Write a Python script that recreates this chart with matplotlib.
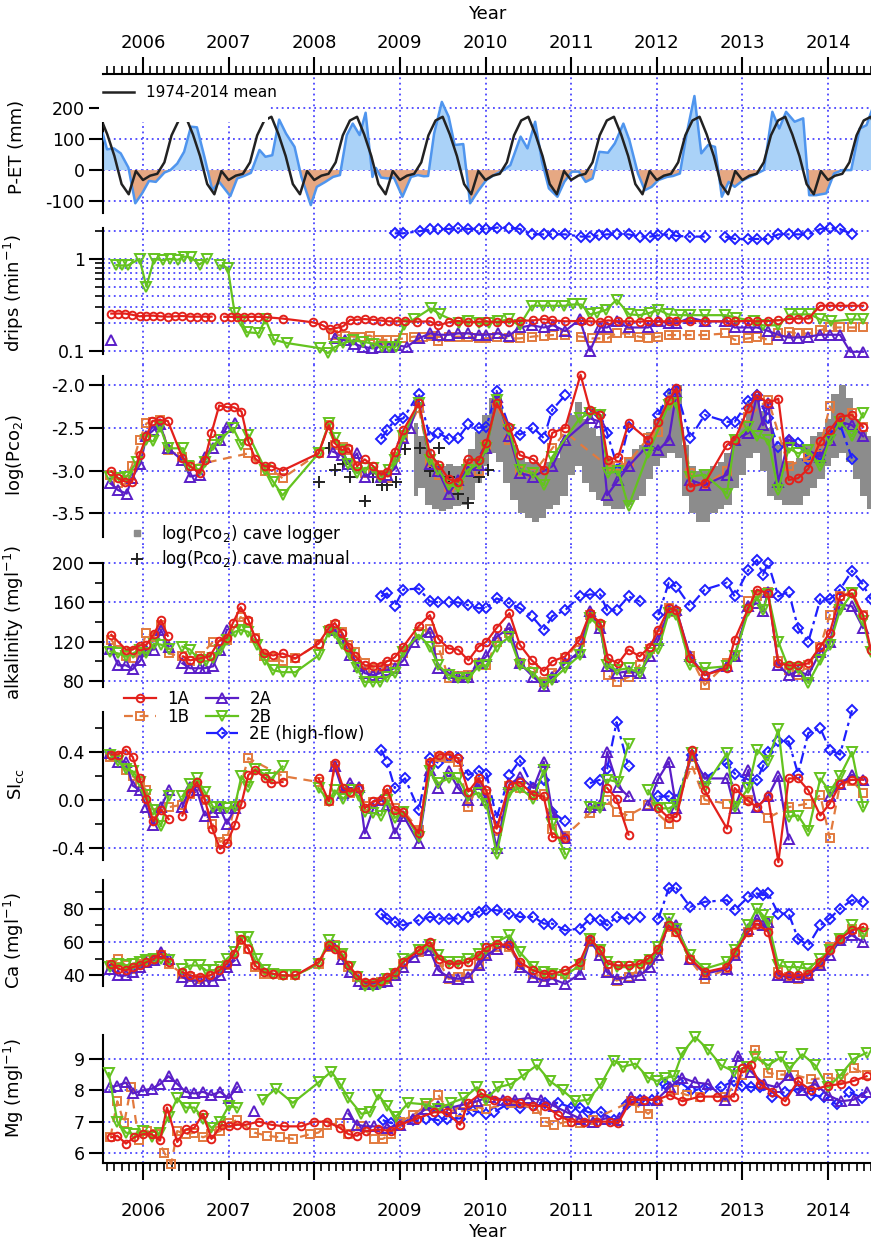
import numpy as np
import matplotlib.pyplot as plt
from matplotlib.lines import Line2D
from matplotlib.patches import Rectangle
from matplotlib.ticker import MultipleLocator, NullFormatter

plt.rcParams['font.family'] = 'DejaVu Sans'
plt.rcParams['axes.unicode_minus'] = False

W, H = 871, 1242
X0, X1 = 2005.533, 2014.502
GRID = '#4a44ff'

# ---------------- data ----------------
# P-ET monthly (mm) and 1974-2014 monthly mean (Jan..Dec)
pet = [(2005.53, 118), (2005.58, 67), (2005.66, 70), (2005.74, 54), (2005.83, 8), (2005.91, -107),
       (2005.99, -75), (2006.07, -35), (2006.15, -38), (2006.25, -8), (2006.32, 0), (2006.40, 21),
       (2006.48, 59), (2006.56, 140), (2006.63, 138), (2006.72, 40), (2006.81, -65), (2006.89, -38),
       (2007.02, -84), (2007.10, -27), (2007.18, -19), (2007.26, -9), (2007.36, 65), (2007.43, 43),
       (2007.51, 48), (2007.59, 163), (2007.67, 118), (2007.77, 75), (2007.85, -22), (2007.96, -113),
       (2008.03, -54), (2008.13, -38), (2008.22, -22), (2008.30, -16), (2008.38, 113), (2008.45, 150),
       (2008.53, 113), (2008.60, 185), (2008.68, -22), (2008.72, 7), (2008.78, -24), (2008.86, -27),
       (2008.93, -24), (2009.03, -86), (2009.13, -22), (2009.21, -16), (2009.28, -20), (2009.33, -19),
       (2009.40, 118), (2009.49, 220), (2009.57, 172), (2009.64, 81), (2009.74, 84), (2009.82, -107),
       (2009.92, -65), (2010.01, -32), (2010.10, -16), (2010.21, 0), (2010.29, 16), (2010.41, 108),
       (2010.49, 70), (2010.58, 156), (2010.66, 27), (2010.74, -59), (2010.84, -86), (2010.92, -38),
       (2011.01, -5), (2011.09, -5), (2011.17, -38), (2011.25, -27), (2011.33, 59), (2011.43, 56),
       (2011.51, 86), (2011.61, 150), (2011.68, 97), (2011.78, -11), (2011.86, -65), (2011.94, -54),
       (2012.02, -32), (2012.12, -22), (2012.19, -19), (2012.27, -11), (2012.35, 118), (2012.44, 239),
       (2012.52, 54), (2012.60, 81), (2012.68, 75), (2012.76, -86), (2012.84, -38), (2012.91, -54),
       (2013.01, -32), (2013.09, -22), (2013.17, -11), (2013.25, 0), (2013.35, 188), (2013.43, 134),
       (2013.51, 188), (2013.61, 156), (2013.71, 167), (2013.78, -81), (2013.86, -81), (2013.98, -75),
       (2014.07, -11), (2014.17, 0), (2014.27, 0), (2014.37, 134), (2014.45, 145), (2014.52, 199)]
pet_mean_month = [-32, -18, -12, 25, 112, 160, 172, 115, 45, -45, -78, -3]
pet_mean_years = list(range(2005, 2015))

# drip rates (min^-1)
drips_1A = [(2005.63, 0.255), (2005.71, 0.255), (2005.79, 0.255), (2005.87, 0.248), (2005.96, 0.238),
            (2006.04, 0.242), (2006.12, 0.242), (2006.20, 0.238), (2006.29, 0.236), (2006.37, 0.238),
            (2006.46, 0.24), (2006.55, 0.236), (2006.63, 0.236), (2006.72, 0.236), (2006.80, 0.236), None,
            (2006.95, 0.235), (2007.03, 0.235), (2007.10, 0.235), (2007.18, 0.232), (2007.26, 0.235),
            (2007.34, 0.235), (2007.45, 0.232), (2007.63, 0.225), (2007.98, 0.205), (2008.10, 0.19),
            (2008.18, 0.172), (2008.26, 0.178), (2008.34, 0.186), (2008.42, 0.218), (2008.50, 0.218),
            (2008.59, 0.222), (2008.69, 0.218), (2008.78, 0.214), (2008.87, 0.21), (2008.97, 0.21),
            (2009.06, 0.21), (2009.20, 0.208), (2009.35, 0.21), (2009.45, 0.19), (2009.57, 0.205),
            (2009.68, 0.212), (2009.80, 0.205), (2009.92, 0.208), (2010.01, 0.21), (2010.13, 0.205),
            (2010.28, 0.208), (2010.40, 0.212), (2010.56, 0.215), (2010.68, 0.222), (2010.78, 0.215),
            (2010.93, 0.21), (2011.11, 0.212), (2011.22, 0.21), (2011.34, 0.208), (2011.43, 0.215),
            (2011.55, 0.21), (2011.67, 0.21), (2011.80, 0.208), (2011.90, 0.212), (2012.02, 0.21),
            (2012.14, 0.21), (2012.23, 0.21), (2012.39, 0.212), (2012.56, 0.21), (2012.82, 0.21),
            (2012.91, 0.21), (2013.07, 0.212), (2013.17, 0.21), (2013.30, 0.212), (2013.42, 0.215),
            (2013.54, 0.222), (2013.65, 0.225), (2013.77, 0.225), (2013.91, 0.31), (2014.02, 0.31),
            (2014.14, 0.31), (2014.28, 0.31), (2014.41, 0.31)]
drips_1B = [(2008.22, 0.149), (2008.36, 0.147), (2008.46, 0.143), (2008.55, 0.143), (2008.65, 0.147),
            (2008.75, 0.132), (2008.85, 0.132), (2008.94, 0.132), (2009.04, 0.137), (2009.16, 0.143),
            (2009.27, 0.143), (2009.39, 0.147), (2009.45, 0.127), (2009.57, 0.143), (2009.68, 0.143),
            (2009.80, 0.143), (2009.92, 0.137), (2010.01, 0.137), (2010.13, 0.143), (2010.27, 0.137),
            (2010.40, 0.137), (2010.54, 0.143), (2010.68, 0.147), (2010.79, 0.149), (2010.93, 0.149),
            (2011.12, 0.143), (2011.24, 0.137), (2011.34, 0.137), (2011.42, 0.137), (2011.53, 0.155),
            (2011.67, 0.155), (2011.79, 0.143), (2011.90, 0.137), (2012.02, 0.143), (2012.14, 0.149),
            (2012.23, 0.149), (2012.39, 0.149), (2012.56, 0.149), (2012.80, 0.155), (2012.91, 0.132),
            (2013.07, 0.137), (2013.17, 0.143), (2013.30, 0.132), (2013.42, 0.155), (2013.54, 0.161),
            (2013.65, 0.155), (2013.77, 0.155), (2013.91, 0.168), (2014.02, 0.18), (2014.14, 0.18),
            (2014.28, 0.18), (2014.41, 0.18)]
drips_2A = [(2005.63, 0.13), None,
            (2008.24, 0.14), (2008.36, 0.13), (2008.46, 0.12), (2008.57, 0.111), (2008.67, 0.107),
            (2008.77, 0.111), (2008.87, 0.111), (2008.96, 0.115), (2009.08, 0.111), (2009.22, 0.137),
            (2009.35, 0.155), (2009.45, 0.15), (2009.57, 0.15), (2009.68, 0.155), (2009.80, 0.155),
            (2009.92, 0.15), (2010.01, 0.15), (2010.15, 0.155), (2010.27, 0.145), (2010.40, 0.18),
            (2010.54, 0.19), (2010.68, 0.18), (2010.79, 0.19), (2010.93, 0.165), (2011.10, 0.22),
            (2011.22, 0.10), (2011.34, 0.18), (2011.42, 0.18), (2011.53, 0.21), (2011.67, 0.18),
            (2011.90, 0.18), (2012.02, 0.21), (2012.14, 0.2), (2012.23, 0.2), (2012.39, 0.23),
            (2012.56, 0.21), (2012.80, 0.21), (2012.91, 0.18), (2013.07, 0.18), (2013.17, 0.18),
            (2013.30, 0.165), (2013.42, 0.15), (2013.54, 0.14), (2013.65, 0.14), (2013.77, 0.143),
            (2013.91, 0.15), (2014.02, 0.15), (2014.14, 0.15), (2014.26, 0.098), (2014.41, 0.098)]
drips_2B = [(2005.69, 0.86), (2005.75, 0.85), (2005.82, 0.85), (2005.96, 1.0), (2006.04, 0.50),
            (2006.13, 1.0), (2006.23, 0.97), (2006.31, 1.0), (2006.41, 0.98), (2006.48, 1.06),
            (2006.56, 1.04), (2006.66, 0.87), (2006.75, 1.0), None,
            (2006.90, 0.85), (2006.99, 0.80), (2007.07, 0.26), (2007.15, 0.21), (2007.21, 0.16),
            (2007.35, 0.156), (2007.43, 0.22), (2007.53, 0.132), (2007.68, 0.122), (2008.07, 0.107),
            (2008.16, 0.095), (2008.24, 0.11), (2008.34, 0.122), (2008.45, 0.13), (2008.57, 0.126),
            (2008.69, 0.12), (2008.79, 0.111), (2008.87, 0.11), (2008.95, 0.111), (2009.05, 0.19),
            (2009.16, 0.22), (2009.36, 0.29), (2009.47, 0.25), (2009.69, 0.2), (2009.80, 0.21),
            (2009.92, 0.2), (2010.04, 0.2), (2010.15, 0.21), (2010.27, 0.22), (2010.40, 0.19),
            (2010.54, 0.31), (2010.67, 0.31), (2010.79, 0.31), (2010.92, 0.31), (2011.02, 0.32),
            (2011.12, 0.32), (2011.22, 0.25), (2011.30, 0.26), (2011.41, 0.28), (2011.53, 0.36),
            (2011.68, 0.25), (2011.80, 0.245), (2011.92, 0.26), (2012.02, 0.28), (2012.13, 0.25),
            (2012.27, 0.245), (2012.39, 0.245), (2012.56, 0.245), (2012.80, 0.245), (2012.93, 0.23),
            (2013.13, 0.21), (2013.24, 0.19), (2013.42, 0.19), (2013.56, 0.25), (2013.67, 0.25),
            (2013.79, 0.25), (2013.91, 0.22), (2014.04, 0.21), (2014.27, 0.22), (2014.41, 0.22)]
drips_2E = [(2008.94, 1.90), (2009.04, 1.90), (2009.23, 2.0), (2009.35, 2.09), (2009.45, 2.09),
            (2009.57, 2.12), (2009.68, 2.15), (2009.80, 2.12), (2009.92, 2.12), (2010.01, 2.12),
            (2010.13, 2.19), (2010.28, 2.19), (2010.40, 2.12), (2010.54, 1.85), (2010.68, 1.85),
            (2010.79, 1.85), (2010.93, 1.85), (2011.12, 1.75), (2011.22, 1.75), (2011.32, 1.80),
            (2011.42, 1.85), (2011.53, 1.85), (2011.67, 1.85), (2011.80, 1.75), (2011.92, 1.75),
            (2012.02, 1.80), (2012.14, 1.85), (2012.23, 1.78), (2012.39, 1.75), (2012.56, 1.75), None,
            (2012.80, 1.75), (2012.91, 1.65), (2013.07, 1.65), (2013.17, 1.65), (2013.30, 1.65),
            (2013.42, 1.85), (2013.54, 1.85), (2013.65, 1.85), (2013.77, 1.85), (2013.91, 2.12),
            (2014.02, 2.19), (2014.14, 2.12), (2014.28, 1.85)]

# log(PCO2)
pco2_1A = [(2005.63, -3.01), (2005.71, -3.09), (2005.79, -3.13), (2005.87, -3.14), (2005.96, -2.82),
           (2006.04, -2.60), (2006.11, -2.42), (2006.20, -2.41), (2006.29, -2.42), (2006.46, -2.85),
           (2006.55, -2.95), (2006.66, -3.03), (2006.72, -2.88), (2006.80, -2.56), (2006.89, -2.24),
           (2006.98, -2.26), (2007.06, -2.26), (2007.15, -2.31), (2007.23, -2.66), (2007.31, -2.86),
           (2007.42, -2.95), (2007.50, -2.95), (2007.63, -3.00), (2008.05, -2.80), (2008.17, -2.47),
           (2008.24, -2.68), (2008.32, -2.76), (2008.40, -2.74), (2008.50, -2.95), (2008.59, -2.87),
           (2008.69, -2.95), (2008.78, -3.05), (2008.85, -3.02), (2008.94, -2.78), (2009.04, -2.53),
           (2009.22, -2.21), (2009.35, -2.80), (2009.46, -2.94), (2009.57, -3.10), (2009.68, -3.13),
           (2009.80, -2.87), (2009.92, -2.88), (2010.01, -2.68), (2010.13, -2.21), (2010.28, -2.49),
           (2010.40, -2.82), (2010.56, -2.87), (2010.68, -2.99), (2010.78, -2.56), (2010.93, -2.50),
           (2011.11, -1.88), (2011.22, -2.29), (2011.34, -2.35), (2011.43, -2.88), (2011.55, -2.84),
           (2011.67, -2.45), (2011.90, -2.64), (2012.02, -2.43), (2012.14, -2.18), (2012.23, -2.04),
           (2012.39, -3.19), (2012.56, -3.15), (2012.82, -2.70), (2012.91, -2.64), (2013.07, -2.27),
           (2013.17, -2.12), (2013.30, -2.21), (2013.42, -2.16), (2013.54, -3.11), (2013.65, -3.09),
           (2013.77, -2.98), (2013.91, -2.66), (2014.02, -2.53), (2014.14, -2.37), (2014.28, -2.35),
           (2014.41, -2.49)]
pco2_1B = [(2005.62, -3.05), (2005.71, -3.15), (2005.79, -3.11), (2005.87, -2.95), (2005.96, -2.64),
           (2006.04, -2.45), (2006.12, -2.43), (2006.20, -2.41), (2006.29, -2.76), (2006.46, -2.84),
           (2006.55, -2.95), (2007.23, -2.80), (2007.42, -3.01), (2007.50, -2.99), (2007.63, -3.09),
           (2008.05, -2.80), (2008.17, -2.47), (2008.24, -2.70), (2008.34, -2.72), (2008.40, -2.76),
           (2008.50, -2.95), (2008.59, -3.03), (2008.69, -3.03), (2008.78, -3.05), (2008.85, -3.09),
           (2008.94, -2.84), (2009.04, -2.62), (2009.22, -2.27), (2009.35, -2.90), (2009.46, -3.05),
           (2009.57, -3.19), (2009.68, -3.17), (2009.80, -2.92), (2009.92, -3.0), (2010.01, -2.70),
           (2010.13, -2.21), (2010.28, -2.64), (2010.40, -3.01), (2010.56, -3.03), (2010.78, -2.74),
           (2010.93, -2.55), (2011.43, -2.95), (2011.55, -2.95), (2011.67, -2.90), (2011.90, -2.62),
           (2012.02, -2.55), (2012.14, -2.21), (2012.23, -2.12), (2012.39, -3.03), (2012.56, -3.17),
           (2012.82, -3.0), (2012.91, -2.64), (2013.07, -2.37), (2013.30, -2.17), (2013.54, -2.95),
           (2013.77, -2.84), (2013.91, -2.72), (2014.02, -2.25), (2014.14, -2.45), (2014.28, -2.33),
           (2014.41, -2.49)]
pco2_2A = [(2005.62, -3.15), (2005.71, -3.23), (2005.81, -3.27), (2005.87, -3.09), (2005.97, -2.92),
           (2006.04, -2.60), (2006.12, -2.53), (2006.20, -2.46), (2006.29, -2.74), (2006.46, -2.88),
           (2006.55, -3.07), (2006.66, -3.05), (2006.72, -2.84), (2006.82, -2.74), (2006.90, -2.64),
           (2006.98, -2.49), (2007.07, -2.44), None,
           (2008.22, -2.78), (2008.32, -2.82), (2008.40, -2.92), (2008.50, -2.80), (2008.59, -3.07),
           (2008.69, -3.02), (2008.78, -3.07), (2008.85, -3.05), (2008.94, -2.98), (2009.04, -2.62),
           (2009.12, -2.50), (2009.22, -2.18), (2009.35, -2.92), (2009.45, -3.01), (2009.57, -3.27),
           (2009.68, -3.11), (2009.80, -3.01), (2009.92, -2.94), (2010.01, -2.74), (2010.13, -2.14),
           (2010.28, -2.60), (2010.40, -3.03), (2010.56, -3.07), (2010.78, -2.95), (2010.93, -2.64),
           (2011.22, -2.39), (2011.34, -2.43), (2011.42, -3.29), (2011.55, -3.11), (2011.67, -2.95),
           (2011.90, -2.70), (2012.02, -2.76), (2012.14, -2.64), (2012.23, -2.08), (2012.39, -3.11),
           (2012.56, -3.17), (2012.82, -3.05), (2012.91, -2.64), (2013.07, -2.56), (2013.17, -2.12),
           (2013.24, -2.47), (2013.30, -2.21), (2013.42, -3.13), (2013.54, -2.64), (2013.91, -2.84),
           (2014.02, -2.64), (2014.14, -2.43), (2014.28, -2.47), (2014.41, -2.60)]
pco2_2B = [(2005.62, -3.07), (2005.73, -3.09), (2005.81, -3.07), (2005.93, -2.90), (2006.04, -2.64),
           (2006.12, -2.66), (2006.20, -2.49), (2006.29, -2.74), (2006.47, -2.74), (2006.53, -2.95),
           (2006.66, -2.99), (2006.72, -2.90), (2006.82, -2.70), (2006.90, -2.64), (2007.05, -2.50),
           (2007.15, -2.70), (2007.23, -2.58), (2007.43, -2.99), (2007.52, -3.13), (2007.63, -3.29),
           (2008.05, -2.80), (2008.17, -2.45), (2008.24, -2.62), (2008.32, -2.76), (2008.40, -2.92),
           (2008.50, -3.03), (2008.59, -2.97), (2008.69, -2.97), (2008.77, -3.07), (2008.87, -2.99),
           (2008.94, -2.88), (2009.04, -2.60), (2009.22, -2.21), (2009.35, -2.88), (2009.45, -2.99),
           (2009.57, -3.17), (2009.68, -3.19), (2009.80, -2.99), (2009.92, -2.92), (2010.01, -2.74),
           (2010.13, -2.18), (2010.28, -2.53), (2010.40, -2.99), (2010.56, -3.03), (2010.68, -3.17),
           (2010.78, -2.84), (2011.10, -2.39), (2011.22, -2.33), (2011.34, -2.35), (2011.43, -3.03),
           (2011.55, -3.01), (2011.67, -3.42), (2011.90, -2.80), (2012.14, -2.23), (2012.23, -2.21),
           (2012.39, -3.07), (2012.56, -3.05), (2012.82, -3.27), (2012.91, -2.64), (2013.07, -2.49),
           (2013.17, -2.60), (2013.30, -2.64), (2013.42, -3.23), (2013.54, -2.74), (2013.65, -2.80),
           (2013.77, -2.76), (2013.91, -2.95), (2014.02, -2.64), (2014.14, -2.43), (2014.28, -2.60),
           (2014.41, -2.33)]
pco2_2E = [(2008.78, -2.63), (2008.85, -2.53), (2008.94, -2.41), (2009.04, -2.39), (2009.22, -2.10),
           (2009.35, -2.61), (2009.45, -2.56), (2009.57, -2.63), (2009.68, -2.62), (2009.80, -2.46),
           (2009.92, -2.50), (2010.01, -2.49), (2010.13, -2.07), (2010.28, -2.50), (2010.40, -2.58),
           (2010.56, -2.50), (2010.68, -2.62), (2010.78, -2.29), (2010.93, -2.12), None,
           (2011.22, -2.31), (2011.34, -2.35), (2011.42, -2.56), (2011.55, -2.99), (2011.67, -2.49), None,
           (2012.02, -2.35), (2012.14, -2.10), (2012.23, -2.06), (2012.39, -2.62), (2012.56, -2.35),
           (2012.82, -2.43), (2012.91, -2.43), (2013.07, -2.19), (2013.17, -2.12), (2013.30, -2.39),
           (2013.42, -2.72), (2013.54, -2.64), (2013.65, -2.68), (2013.77, -2.88), (2013.91, -2.82),
           (2014.02, -2.58), (2014.14, -2.46), (2014.28, -2.86)]
# cave air logger: (time, upper, lower) envelope
pco2_logger = [(2009.17, -2.45, -3.30), (2009.25, -2.60, -3.20), (2009.33, -2.75, -3.40),
               (2009.42, -2.88, -3.45), (2009.50, -2.95, -3.47), (2009.58, -2.92, -3.45),
               (2009.67, -2.95, -3.42), (2009.75, -2.92, -3.40), (2009.83, -2.75, -3.35),
               (2009.92, -2.55, -3.15), (2010.00, -2.35, -2.95), (2010.08, -2.15, -2.80),
               (2010.17, -2.25, -2.90), (2010.25, -2.45, -3.15), (2010.33, -2.70, -3.35),
               (2010.42, -2.85, -3.50), (2010.50, -2.90, -3.55), (2010.58, -2.90, -3.60),
               (2010.67, -2.95, -3.55), (2010.75, -2.90, -3.45), (2010.83, -2.85, -3.40),
               (2010.92, -2.65, -3.30), (2011.00, -2.35, -3.05), (2011.08, -2.20, -2.95),
               (2011.17, -2.40, -3.15), (2011.25, -2.50, -3.25), (2011.33, -2.60, -3.35),
               (2011.42, -2.85, -3.42), (2011.50, -2.95, -3.45), (2011.58, -2.95, -3.45),
               (2011.67, -2.85, -3.40), (2011.75, -2.75, -3.35), (2011.83, -2.70, -3.30),
               (2011.92, -2.55, -3.10), (2012.00, -2.40, -2.95), (2012.08, -2.25, -2.85),
               (2012.17, -2.05, -2.80), (2012.25, -2.00, -2.85), (2012.33, -2.70, -3.30),
               (2012.42, -2.95, -3.50), (2012.50, -3.00, -3.60), (2012.58, -3.00, -3.60),
               (2012.67, -2.95, -3.50), (2012.75, -2.90, -3.45), (2012.83, -2.80, -3.40),
               (2012.92, -2.60, -3.20), (2013.00, -2.45, -3.05), (2013.08, -2.20, -2.85),
               (2013.17, -2.10, -2.80), (2013.25, -2.30, -3.00), (2013.33, -2.50, -3.30),
               (2013.42, -2.70, -3.35), (2013.50, -2.90, -3.40), (2013.58, -2.90, -3.40),
               (2013.67, -2.85, -3.40), (2013.75, -2.70, -3.30), (2013.83, -2.60, -3.20),
               (2013.92, -2.55, -3.10), (2014.00, -2.40, -2.95), (2014.08, -2.10, -2.85),
               (2014.17, -2.00, -2.80), (2014.25, -2.15, -2.90), (2014.33, -2.40, -3.10),
               (2014.42, -2.55, -3.30), (2014.50, -2.60, -3.45)]
pco2_manual = [(2008.05, -3.13), (2008.17, -2.74), (2008.24, -2.99), (2008.34, -2.92), (2008.42, -3.07),
               (2008.59, -3.36), (2008.69, -3.07), (2008.79, -3.17), (2008.85, -3.17), (2008.96, -3.14),
               (2009.06, -2.75), (2009.24, -2.74), (2009.35, -3.01), (2009.46, -2.74), (2009.57, -3.07),
               (2009.68, -3.27), (2009.80, -3.38), (2009.92, -3.07), (2010.03, -2.99)]

# alkalinity (mg/l)
alk_1A = [(2005.63, 127), (2005.80, 112), (2005.88, 112), (2005.96, 116), (2006.04, 117), (2006.13, 128),
          (2006.21, 142), (2006.29, 126), None, (2006.47, 105), (2006.55, 101), (2006.66, 103),
          (2006.78, 105), (2006.89, 121), (2006.98, 124), (2007.05, 139), (2007.14, 155), (2007.23, 142),
          (2007.31, 124), (2007.41, 108), (2007.52, 106), (2007.63, 108), (2007.78, 103), (2008.05, 118),
          (2008.17, 134), (2008.24, 139), (2008.32, 129), (2008.40, 115), (2008.48, 105), (2008.59, 96),
          (2008.69, 95), (2008.78, 95), (2008.85, 100), (2008.94, 104), (2009.04, 115), (2009.22, 136),
          (2009.35, 147), (2009.45, 123), (2009.57, 113), (2009.68, 112), (2009.80, 101), (2009.92, 115),
          (2010.01, 120), (2010.13, 134), (2010.28, 149), (2010.40, 117), (2010.54, 101), (2010.68, 90),
          (2010.78, 100), (2010.93, 105), (2011.10, 122), (2011.22, 149), (2011.34, 139), (2011.43, 103),
          (2011.55, 98), (2011.67, 112), (2011.80, 105), (2011.92, 115), (2012.02, 132), (2012.14, 154),
          (2012.23, 152), (2012.39, 103), (2012.56, 86), (2012.82, 93), (2012.91, 122), (2013.07, 154),
          (2013.17, 173), (2013.30, 169), (2013.42, 98), (2013.54, 96), (2013.65, 96), (2013.77, 98),
          (2013.91, 115), (2014.02, 129), (2014.14, 166), (2014.28, 169), (2014.41, 147), (2014.50, 112)]
alk_1B = [(2005.63, 122), (2005.71, 112), (2005.80, 105), (2005.88, 103), (2005.97, 110), (2006.04, 129),
          (2006.13, 125), (2006.21, 137), (2006.30, 108), (2006.46, 105), (2006.55, 100), (2006.66, 105),
          (2006.82, 120), (2006.98, 122), (2007.14, 145), (2007.23, 140), (2007.31, 124), (2007.41, 105),
          (2007.52, 104), (2007.63, 100), (2007.78, 103), (2008.05, 118), (2008.17, 132), (2008.24, 137),
          (2008.32, 130), (2008.40, 117), (2008.48, 110), (2008.59, 98), (2008.69, 93), (2008.78, 93),
          (2008.85, 96), (2008.94, 93), (2009.04, 108), (2009.22, 130), (2009.35, 133), (2009.46, 112),
          (2009.57, 83), (2009.68, 85), (2009.80, 86), (2009.92, 98), (2010.01, 96), (2010.13, 120),
          (2010.28, 129), (2010.40, 98), (2010.56, 93), (2010.68, 79), (2010.78, 88), (2010.93, 103),
          (2011.10, 120), (2011.22, 147), (2011.34, 137), (2011.43, 86), (2011.53, 79), (2011.67, 84),
          (2011.80, 96), (2011.92, 113), (2012.02, 127), (2012.14, 154), (2012.23, 150), (2012.39, 105),
          (2012.56, 76), (2012.82, 98), (2012.91, 105), (2013.07, 161), (2013.17, 166), (2013.30, 171),
          (2013.42, 100), (2013.54, 91), (2013.65, 86), (2013.77, 96), (2013.91, 115), (2014.02, 147),
          (2014.14, 166), (2014.28, 171), (2014.41, 147)]
alk_2A = [(2005.62, 113), (2005.71, 96), (2005.80, 96), (2005.88, 92), (2005.97, 101), (2006.04, 112),
          (2006.13, 112), (2006.21, 132), (2006.30, 115), None, (2006.46, 98), (2006.55, 93), (2006.66, 93),
          (2006.72, 93), (2006.82, 95), (2006.90, 112), (2006.98, 132), None,
          (2008.22, 132), (2008.32, 124), (2008.42, 106), (2008.52, 95), (2008.59, 88), (2008.69, 86),
          (2008.77, 88), (2008.85, 91), (2008.94, 93), (2009.04, 101), (2009.16, 120), (2009.35, 130),
          (2009.45, 93), (2009.57, 88), (2009.68, 84), (2009.80, 84), (2009.92, 98), (2010.01, 105),
          (2010.13, 125), (2010.28, 134), (2010.40, 98), (2010.56, 84), (2010.68, 75), (2010.78, 84),
          (2010.93, 98), (2011.10, 110), (2011.22, 151), (2011.34, 134), (2011.42, 95), (2011.53, 88),
          (2011.67, 90), (2011.80, 88), (2011.92, 105), (2012.02, 122), (2012.14, 152), (2012.23, 152),
          (2012.39, 105), (2012.56, 86), (2012.82, 95), (2012.91, 105), (2013.07, 156), (2013.17, 159),
          (2013.24, 151), (2013.30, 171), (2013.42, 96), (2013.54, 86), (2013.65, 90), (2013.77, 86),
          (2013.91, 110), (2014.02, 120), (2014.14, 158), (2014.28, 156), (2014.41, 134)]
alk_2B = [(2005.62, 110), (2005.71, 108), (2005.80, 105), (2005.88, 108), (2005.97, 112), (2006.04, 108),
          (2006.13, 118), (2006.21, 117), (2006.30, 113), None, (2006.46, 115), (2006.55, 112),
          (2006.66, 101), (2006.74, 100), (2006.82, 103), (2006.90, 112), (2006.98, 122), (2007.07, 130),
          (2007.14, 132), (2007.23, 130), (2007.33, 117), (2007.43, 101), (2007.52, 91), (2007.63, 89),
          (2007.78, 89), (2008.05, 106), (2008.17, 130), (2008.24, 129), (2008.32, 118), (2008.42, 106),
          (2008.50, 93), (2008.59, 79), (2008.69, 79), (2008.77, 79), (2008.85, 84), (2008.94, 88),
          (2009.04, 110), (2009.22, 127), (2009.35, 115), (2009.45, 96), (2009.57, 86), (2009.68, 83),
          (2009.80, 83), (2009.92, 95), (2010.01, 96), (2010.13, 115), (2010.28, 125), (2010.40, 96),
          (2010.56, 88), (2010.68, 76), (2010.78, 81), (2010.93, 93), (2011.10, 106), (2011.22, 144),
          (2011.34, 135), (2011.42, 96), (2011.53, 91), (2011.67, 93), (2011.80, 88), (2011.92, 108),
          (2012.02, 113), (2012.14, 149), (2012.23, 147), (2012.39, 96), (2012.56, 93), (2012.82, 95),
          (2012.91, 105), (2013.07, 151), (2013.17, 166), (2013.24, 152), (2013.30, 168), (2013.42, 120),
          (2013.54, 93), (2013.65, 93), (2013.77, 78), (2013.91, 101), (2014.02, 117), (2014.14, 152),
          (2014.28, 169), (2014.41, 141), (2014.50, 110)]
alk_2E = [(2008.78, 166), (2008.85, 169), (2008.94, 156), (2009.04, 173), (2009.22, 174), (2009.35, 161),
          (2009.45, 160), (2009.57, 160), (2009.68, 160), (2009.80, 157), (2009.92, 154), (2010.01, 154),
          (2010.13, 164), (2010.28, 159), (2010.40, 154), (2010.54, 146), (2010.68, 132), (2010.78, 146),
          (2010.93, 152), (2011.10, 166), (2011.22, 168), (2011.34, 168), (2011.42, 152), (2011.53, 152),
          (2011.67, 166), (2011.80, 161), None, (2012.02, 147), (2012.14, 180), (2012.23, 176),
          (2012.39, 156), (2012.56, 173), (2012.82, 180), (2012.91, 166), (2013.07, 193), (2013.17, 203),
          (2013.24, 188), (2013.30, 200), (2013.42, 166), (2013.54, 171), (2013.65, 134), (2013.77, 120),
          (2013.91, 163), (2014.02, 163), (2014.14, 173), (2014.28, 192), (2014.41, 178), (2014.50, 163)]

# calcite saturation index
si_1A = [(2005.63, 0.38), (2005.71, 0.38), (2005.80, 0.42), (2005.88, 0.36), (2005.96, 0.18), (2006.04, 0.01),
         (2006.12, -0.18), (2006.21, -0.08), (2006.30, -0.16), None, (2006.46, -0.13), (2006.55, 0.06),
         (2006.63, 0.15), (2006.72, 0.01), (2006.81, -0.24), (2006.90, -0.41), (2006.98, -0.36),
         (2007.07, -0.21), (2007.15, -0.03), (2007.23, 0.21), (2007.31, 0.25), (2007.43, 0.18),
         (2007.50, 0.14), (2007.63, 0.15), None, (2008.05, 0.18), (2008.17, -0.01), (2008.24, 0.31),
         (2008.34, 0.10), (2008.42, 0.07), (2008.52, 0.10), (2008.59, -0.07), (2008.69, -0.01),
         (2008.78, 0.0), (2008.85, 0.09), (2008.94, -0.08), (2009.04, -0.10), (2009.22, -0.28),
         (2009.35, 0.32), (2009.46, 0.38), (2009.57, 0.38), (2009.68, 0.35), (2009.80, 0.07),
         (2009.92, 0.18), (2010.01, 0.08), (2010.13, -0.24), (2010.28, 0.13), (2010.40, 0.15),
         (2010.56, 0.04), (2010.68, 0.03), (2010.78, -0.31), (2010.93, -0.32), None, (2011.42, 0.10),
         (2011.53, 0.01), (2011.67, -0.29), None, (2012.02, -0.07), (2012.14, -0.15), (2012.23, -0.14),
         (2012.41, 0.42), (2012.56, 0.08), (2012.82, -0.24), (2012.91, 0.10), (2013.07, -0.01),
         (2013.17, -0.06), (2013.30, 0.03), (2013.42, -0.52), (2013.54, 0.18), (2013.65, 0.18),
         (2013.77, 0.08), (2013.91, -0.13), (2014.02, -0.03), (2014.14, 0.13), (2014.28, 0.17),
         (2014.41, 0.17)]
si_1B = [(2005.62, 0.36), (2005.71, 0.36), (2005.80, 0.25), (2005.88, 0.20), (2005.97, 0.14), (2006.04, 0.08),
         (2006.12, -0.11), (2006.30, -0.06), (2006.46, -0.04), (2006.55, 0.05), (2006.63, 0.12),
         (2006.72, 0.0), (2006.81, -0.20), (2006.90, -0.35), (2006.98, -0.33), (2007.07, -0.05),
         (2007.23, 0.35), (2007.63, 0.20), (2008.05, 0.15), (2008.17, -0.01), (2008.24, 0.28),
         (2008.34, 0.09), (2008.42, 0.06), (2008.52, 0.09), (2008.59, -0.05), (2008.69, -0.02),
         (2008.85, 0.05), (2008.94, -0.07), (2009.04, -0.09), (2009.22, -0.25), (2009.35, 0.30),
         (2009.46, 0.36), (2009.57, 0.35), (2009.68, 0.32), (2009.80, -0.06), (2009.92, 0.15),
         (2010.01, 0.05), (2010.13, -0.26), (2010.28, 0.12), (2010.40, 0.10), (2010.56, 0.04),
         (2010.68, 0.05), (2010.78, -0.24), (2010.93, -0.30), (2011.22, -0.11), (2011.42, 0.0),
         (2011.53, -0.10), (2011.67, -0.13), (2011.90, -0.04), (2012.14, -0.20), (2012.41, 0.29),
         (2012.56, 0.0), (2012.82, -0.03), (2013.07, 0.0), (2013.30, -0.15), (2013.54, -0.06),
         (2013.77, -0.03), (2013.91, 0.04), (2014.02, -0.32), (2014.14, 0.13), (2014.28, 0.16),
         (2014.41, 0.06)]
si_2A = [(2005.62, 0.39), (2005.71, 0.32), (2005.80, 0.32), (2005.88, 0.12), (2005.97, 0.08), (2006.04, -0.06),
         (2006.12, -0.21), (2006.21, -0.06), (2006.30, 0.08), None, (2006.46, -0.06), (2006.55, 0.11),
         (2006.63, 0.08), (2006.72, -0.13), (2006.82, -0.10), (2006.90, -0.07), (2006.98, -0.20),
         (2007.07, -0.07), None, (2008.24, 0.28), (2008.34, 0.06), (2008.42, 0.14), (2008.52, 0.11),
         (2008.59, -0.28), (2008.69, -0.07), (2008.78, 0.0), (2008.85, -0.04), (2008.94, -0.28),
         (2009.04, -0.13), (2009.22, -0.36), (2009.35, 0.25), (2009.45, 0.10), (2009.57, 0.24),
         (2009.68, 0.10), (2009.80, 0.0), (2009.92, 0.13), (2010.01, 0.0), (2010.13, -0.40),
         (2010.28, 0.13), (2010.40, 0.19), (2010.56, 0.10), (2010.68, 0.32), (2010.78, -0.10),
         (2010.93, -0.32), None, (2011.22, -0.06), (2011.34, -0.04), (2011.42, 0.40), (2011.55, 0.11),
         (2011.67, 0.03), None, (2011.90, -0.04), (2012.02, 0.18), (2012.14, 0.32), (2012.23, -0.07),
         (2012.41, 0.38), (2012.56, 0.18), (2012.82, 0.18), (2012.91, -0.07), (2013.07, 0.25),
         (2013.17, -0.06), (2013.30, 0.03), (2013.42, 0.20), (2013.54, -0.33), None, (2014.02, 0.03),
         (2014.14, 0.13), (2014.28, 0.21), (2014.41, 0.17)]
si_2B = [(2005.62, 0.38), (2005.71, 0.33), (2005.80, 0.26), (2005.88, 0.24), (2005.97, 0.15), (2006.04, 0.04),
         (2006.12, -0.08), (2006.21, -0.22), (2006.30, 0.03), None, (2006.46, 0.03), (2006.55, 0.13),
         (2006.63, 0.18), (2006.72, 0.07), (2006.82, -0.06), (2006.90, -0.06), (2006.98, -0.07),
         (2007.07, -0.06), (2007.15, 0.20), (2007.23, 0.11), (2007.31, 0.26), (2007.43, 0.21),
         (2007.50, 0.18), (2007.63, 0.28), None, (2008.05, 0.10), (2008.17, -0.01), (2008.24, 0.08),
         (2008.34, 0.01), (2008.42, 0.08), (2008.52, 0.03), (2008.59, -0.10), (2008.69, -0.11),
         (2008.78, -0.13), (2008.85, 0.0), (2008.94, -0.15), (2009.04, -0.10), (2009.22, -0.31),
         (2009.35, 0.24), (2009.45, 0.14), (2009.57, 0.18), (2009.68, 0.18), (2009.80, 0.03),
         (2009.92, 0.06), (2010.01, -0.03), (2010.13, -0.45), (2010.28, 0.06), (2010.40, 0.10),
         (2010.56, 0.01), (2010.68, 0.25), (2010.78, -0.20), (2010.93, -0.45), None, (2011.22, -0.06),
         (2011.34, -0.07), (2011.42, 0.17), (2011.55, 0.15), (2011.67, 0.47), None, (2011.90, 0.08),
         (2012.02, -0.07), (2012.14, -0.07), (2012.23, -0.04), (2012.41, 0.39), (2012.56, 0.11),
         (2012.82, 0.39), (2012.91, -0.06), (2013.07, 0.10), (2013.17, 0.42), (2013.30, 0.33),
         (2013.42, 0.59), (2013.54, -0.14), (2013.65, -0.13), (2013.77, -0.26), (2013.91, 0.18),
         (2014.02, 0.07), (2014.14, 0.20), (2014.28, 0.40), (2014.41, -0.06)]
si_2E = [(2008.78, 0.42), (2008.85, 0.32), (2008.94, 0.10), (2009.06, 0.18), (2009.22, -0.08),
         (2009.35, 0.35), (2009.45, 0.31), (2009.57, 0.36), (2009.68, 0.35), (2009.80, 0.21),
         (2009.92, 0.24), (2010.01, 0.22), (2010.13, -0.15), (2010.28, 0.21), (2010.40, 0.33),
         (2010.56, 0.10), (2010.68, 0.17), (2010.78, -0.10), (2010.93, -0.18), None, (2011.22, 0.14),
         (2011.34, 0.17), (2011.42, 0.26), (2011.53, 0.65), (2011.67, 0.28), None, (2012.02, 0.03),
         (2012.14, 0.03), (2012.23, 0.0), (2012.41, 0.38), (2012.56, 0.18), (2012.82, 0.31),
         (2012.91, 0.22), (2013.07, 0.17), (2013.17, 0.17), (2013.24, 0.28), (2013.30, 0.40),
         (2013.42, 0.49), (2013.54, 0.49), (2013.65, 0.22), (2013.77, 0.56), (2013.91, 0.60),
         (2014.02, 0.42), (2014.14, 0.38), (2014.28, 0.75)]

# Ca (mg/l)
ca_1A = [(2005.63, 47), (2005.71, 44), (2005.80, 43), (2005.88, 45), (2005.97, 46), (2006.04, 48), (2006.13, 50),
         (2006.21, 53), (2006.30, 48), None, (2006.46, 42), (2006.55, 40), (2006.66, 39), (2006.78, 40),
         (2006.89, 43), (2006.98, 47), (2007.06, 53), (2007.14, 62), (2007.23, 56), (2007.31, 46),
         (2007.41, 42), (2007.52, 41), (2007.63, 40), (2007.78, 40), (2008.05, 48), (2008.17, 58),
         (2008.24, 56), (2008.32, 52), (2008.40, 46), (2008.50, 40), (2008.59, 36), (2008.69, 36),
         (2008.78, 37), (2008.85, 39), (2008.94, 42), (2009.04, 48), (2009.22, 55), (2009.35, 60),
         (2009.46, 50), (2009.57, 47), (2009.68, 47), (2009.80, 48), (2009.92, 52), (2010.01, 57),
         (2010.13, 59), (2010.28, 58), (2010.40, 48), (2010.56, 43), (2010.68, 41), (2010.78, 41),
         (2010.93, 43), (2011.10, 48), (2011.22, 62), (2011.34, 55), (2011.43, 47), (2011.55, 46),
         (2011.67, 46), (2011.80, 47), (2011.90, 50), (2012.02, 56), (2012.14, 70), (2012.23, 66),
         (2012.39, 50), (2012.56, 42), (2012.82, 45), (2012.91, 54), (2013.07, 66), (2013.17, 71),
         (2013.30, 66), (2013.42, 41), (2013.54, 40), (2013.65, 40), (2013.77, 41), (2013.91, 48),
         (2014.02, 55), (2014.14, 62), (2014.28, 67), (2014.41, 69)]
ca_1B = [(2005.63, 46), (2005.71, 50), (2005.80, 46), (2005.88, 44), (2005.97, 47), (2006.04, 49), (2006.13, 50),
         (2006.21, 52), (2006.30, 47), (2006.46, 41), (2006.55, 39), (2006.66, 38), (2006.82, 41),
         (2006.98, 46), (2007.14, 61), (2007.23, 56), (2007.31, 45), (2007.41, 41), (2007.52, 41),
         (2007.63, 40), (2007.78, 40), (2008.05, 47), (2008.17, 57), (2008.24, 58), (2008.32, 52),
         (2008.40, 45), (2008.50, 39), (2008.59, 35), (2008.69, 35), (2008.78, 36), (2008.85, 38),
         (2008.94, 41), (2009.04, 47), (2009.22, 54), (2009.35, 57), (2009.46, 48), (2009.57, 38),
         (2009.68, 39), (2009.80, 41), (2009.92, 47), (2010.01, 53), (2010.13, 57), (2010.28, 57),
         (2010.40, 46), (2010.56, 41), (2010.68, 39), (2010.78, 40), (2010.93, 41), (2011.10, 46),
         (2011.22, 60), (2011.34, 54), (2011.43, 42), (2011.53, 37), (2011.67, 39), (2011.80, 44),
         (2011.92, 49), (2012.02, 55), (2012.14, 69), (2012.23, 66), (2012.39, 49), (2012.56, 38),
         (2012.82, 44), (2012.91, 53), (2013.07, 66), (2013.17, 70), (2013.30, 70), (2013.42, 42),
         (2013.54, 39), (2013.65, 38), (2013.77, 40), (2013.91, 47), (2014.02, 57), (2014.14, 62),
         (2014.28, 68), (2014.41, 66)]
ca_2A = [(2005.62, 44), (2005.71, 40), (2005.80, 40), (2005.88, 42), (2005.97, 45), (2006.04, 48), (2006.13, 49),
         (2006.21, 54), (2006.30, 50), None, (2006.46, 39), (2006.55, 37), (2006.66, 37), (2006.72, 37),
         (2006.82, 37), (2006.90, 40), (2006.98, 45), (2007.07, 49), None, (2008.22, 58), (2008.32, 50),
         (2008.42, 42), (2008.52, 37), (2008.59, 35), (2008.69, 35), (2008.77, 36), (2008.85, 37),
         (2008.94, 40), (2009.04, 45), (2009.16, 51), (2009.35, 55), (2009.45, 43), (2009.57, 39),
         (2009.68, 38), (2009.80, 39), (2009.92, 46), (2010.01, 52), (2010.13, 56), (2010.28, 60),
         (2010.40, 45), (2010.56, 39), (2010.68, 37), (2010.78, 38), (2010.93, 35), (2011.10, 41),
         (2011.22, 61), (2011.34, 52), (2011.42, 42), (2011.53, 38), (2011.67, 39), (2011.80, 40),
         (2011.92, 45), (2012.02, 52), (2012.14, 72), (2012.23, 70), (2012.39, 50), (2012.56, 41),
         (2012.82, 44), (2012.91, 52), (2013.07, 68), (2013.17, 74), (2013.24, 70), (2013.30, 72),
         (2013.42, 40), (2013.54, 39), (2013.65, 39), (2013.77, 40), (2013.91, 46), (2014.02, 52),
         (2014.14, 61), (2014.28, 64), (2014.41, 60)]
ca_2B = [(2005.62, 45), (2005.71, 47), (2005.80, 46), (2005.88, 47), (2005.97, 48), (2006.04, 49), (2006.13, 50),
         (2006.21, 50), (2006.30, 49), None, (2006.46, 44), (2006.55, 46), (2006.66, 46), (2006.74, 43),
         (2006.82, 43), (2006.90, 45), (2006.98, 50), (2007.07, 54), (2007.14, 63), (2007.23, 63),
         (2007.33, 50), (2007.43, 43), (2007.52, 41), (2007.63, 40), (2007.78, 40), (2008.05, 47),
         (2008.17, 61), (2008.24, 57), (2008.32, 53), (2008.42, 45), (2008.50, 39), (2008.59, 34),
         (2008.69, 34), (2008.77, 35), (2008.85, 38), (2008.94, 41), (2009.04, 50), (2009.22, 55),
         (2009.35, 58), (2009.45, 52), (2009.57, 48), (2009.68, 48), (2009.80, 50), (2009.92, 53),
         (2010.01, 56), (2010.13, 60), (2010.28, 64), (2010.40, 54), (2010.56, 45), (2010.68, 42),
         (2010.78, 41), (2010.93, 40), (2011.10, 46), (2011.22, 62), (2011.34, 55), (2011.42, 48),
         (2011.53, 45), (2011.67, 45), (2011.80, 46), (2011.92, 49), (2012.02, 57), (2012.14, 74),
         (2012.23, 68), (2012.39, 52), (2012.56, 44), (2012.82, 48), (2012.91, 55), (2013.07, 70),
         (2013.17, 80), (2013.24, 76), (2013.30, 72), (2013.42, 46), (2013.54, 45), (2013.65, 45),
         (2013.77, 44), (2013.91, 50), (2014.02, 55), (2014.14, 62), (2014.28, 70), (2014.41, 65)]
ca_2E = [(2008.78, 77), (2008.85, 74), (2008.94, 72), (2009.04, 70), (2009.22, 73), (2009.35, 75), (2009.46, 74),
         (2009.57, 74), (2009.68, 74), (2009.80, 75), (2009.92, 78), (2010.01, 79), (2010.13, 79),
         (2010.28, 77), (2010.40, 75), (2010.56, 75), (2010.68, 71), (2010.78, 71), (2010.93, 67),
         (2011.10, 68), (2011.22, 74), (2011.34, 73), (2011.42, 70), (2011.53, 75), (2011.67, 74),
         (2011.80, 75), None, (2012.02, 74), (2012.14, 92), (2012.23, 92), (2012.39, 81), (2012.56, 84),
         (2012.82, 85), (2012.91, 79), (2013.07, 87), (2013.17, 89), (2013.24, 88), (2013.30, 89),
         (2013.42, 77), (2013.54, 77), (2013.65, 62), (2013.77, 58), (2013.91, 70), (2014.02, 74),
         (2014.14, 80), (2014.28, 85), (2014.41, 84)]

# Mg (mg/l)
mg_1A = [(2005.63, 6.5), (2005.70, 6.55), (2005.80, 6.3), (2005.90, 6.5), (2006.00, 6.6), (2006.10, 6.6),
         (2006.20, 6.4), (2006.28, 7.45), (2006.40, 6.35), (2006.50, 6.75), (2006.60, 6.8), (2006.70, 7.25),
         (2006.80, 6.45), (2006.92, 6.9), (2007.00, 6.85), (2007.10, 6.9), (2007.20, 6.9), (2007.35, 7.0),
         (2007.50, 6.9), (2007.65, 6.85), (2007.85, 6.85), (2008.00, 7.0), (2008.15, 7.0), (2008.30, 6.8),
         (2008.40, 6.6), (2008.50, 6.55), (2008.60, 6.7), (2008.75, 6.75), (2008.90, 6.7), (2009.00, 6.9),
         (2009.20, 7.1), (2009.40, 7.3), (2009.55, 7.3), (2009.70, 6.9), (2009.80, 7.6), (2009.95, 7.9),
         (2010.10, 7.7), (2010.25, 7.7), (2010.40, 7.6), (2010.55, 7.5), (2010.70, 7.5), (2010.85, 7.2),
         (2011.00, 7.0), (2011.15, 7.0), (2011.30, 7.0), (2011.45, 7.0), (2011.55, 6.95), (2011.70, 7.7),
         (2011.85, 7.7), (2012.00, 7.7), (2012.15, 7.85), (2012.30, 7.65), (2012.50, 7.8), (2012.70, 7.8),
         (2012.90, 7.8), (2013.00, 8.7), (2013.10, 8.8), (2013.20, 8.2), (2013.35, 7.95), (2013.50, 7.65),
         (2013.65, 8.3), (2013.80, 8.0), (2014.00, 8.15), (2014.15, 8.2), (2014.30, 8.3), (2014.45, 8.45)]
mg_1B = [(2005.62, 6.5), (2005.70, 7.65), (2005.78, 6.95), (2005.86, 8.1), (2005.95, 6.4), (2006.05, 6.7),
         (2006.15, 6.6), (2006.25, 6.0), (2006.33, 5.65), (2006.40, 6.7), (2006.50, 6.6), (2006.60, 6.65),
         (2006.70, 6.5), (2006.80, 6.6), (2006.90, 6.7), (2007.00, 6.95), (2007.10, 7.05), (2007.30, 6.65),
         (2007.45, 6.55), (2007.60, 6.5), (2007.75, 6.45), (2007.95, 6.6), (2008.05, 6.65), (2008.15, 6.9),
         (2008.30, 6.95), (2008.40, 6.6), (2008.55, 6.85), (2008.70, 6.45), (2008.80, 6.45), (2008.90, 6.6),
         (2009.00, 7.0), (2009.15, 7.2), (2009.30, 7.5), (2009.45, 7.85), (2009.55, 7.4), (2009.70, 7.3),
         (2009.85, 7.5), (2010.00, 7.4), (2010.30, 7.6), (2010.60, 7.4), (2010.70, 7.0), (2010.80, 6.9),
         (2010.95, 7.0), (2011.10, 6.95), (2011.25, 7.05), (2011.70, 7.65), (2011.80, 7.45), (2011.90, 7.25),
         (2012.20, 8.0), (2012.35, 7.85), (2012.50, 7.8), (2012.80, 7.8), (2013.00, 8.5), (2013.15, 9.3),
         (2013.30, 8.55), (2013.45, 8.5), (2013.60, 8.5), (2013.80, 8.35), (2014.00, 8.4), (2014.15, 8.35),
         (2014.30, 8.7), (2014.45, 8.5)]
mg_2A = [(2005.62, 8.1), (2005.70, 8.15), (2005.80, 8.25), (2005.88, 7.9), (2006.00, 8.0), (2006.10, 8.05),
         (2006.20, 8.2), (2006.30, 8.45), (2006.40, 8.2), (2006.50, 7.95), (2006.60, 7.9), (2006.70, 7.95),
         (2006.80, 7.85), (2006.90, 7.95), (2007.00, 7.75), (2007.10, 8.1), None, (2007.30, 7.35), None,
         (2008.40, 7.25), (2008.50, 6.9), (2008.60, 6.85), (2008.70, 6.85), (2008.85, 6.8), (2009.00, 6.9),
         (2009.15, 7.1), (2009.30, 7.4), (2009.45, 7.5), (2009.60, 7.45), (2009.75, 7.55), (2009.90, 7.65),
         (2010.05, 7.8), (2010.20, 7.7), (2010.35, 7.7), (2010.50, 7.75), (2010.65, 7.7), (2010.80, 7.5),
         (2010.95, 7.3), (2011.10, 7.1), (2011.25, 7.0), (2011.40, 7.1), (2011.55, 7.05), (2011.70, 7.8),
         (2011.85, 7.7), (2012.00, 7.7), (2012.15, 8.1), (2012.30, 8.4), (2012.45, 8.25), (2012.60, 8.2),
         (2012.80, 7.7), (2012.95, 9.1), (2013.10, 8.6), (2013.25, 8.2), (2013.40, 8.1), (2013.55, 8.5),
         (2013.70, 8.0), (2013.85, 8.2), (2014.00, 7.85), (2014.15, 7.65), (2014.30, 7.7), (2014.45, 7.95)]
mg_2B = [(2005.60, 8.55), (2005.70, 7.0), (2005.80, 6.65), (2005.90, 6.6), (2006.00, 6.7), (2006.10, 6.5),
         (2006.20, 6.65), (2006.30, 7.15), (2006.40, 7.75), (2006.50, 7.45), (2006.60, 7.45), (2006.70, 7.1),
         (2006.80, 6.8), (2006.90, 7.0), (2007.00, 7.5), (2007.10, 7.45), None, (2007.40, 7.7),
         (2007.55, 8.05), (2007.75, 7.6), (2008.05, 8.25), (2008.20, 8.6), (2008.30, 8.2), (2008.40, 7.75),
         (2008.55, 7.25), (2008.65, 7.3), (2008.75, 7.85), (2008.85, 7.5), (2008.95, 7.15), (2009.10, 7.6),
         (2009.30, 7.55), (2009.45, 7.4), (2009.60, 7.6), (2009.75, 7.75), (2009.90, 8.1), (2010.00, 7.7),
         (2010.15, 8.1), (2010.30, 8.2), (2010.45, 8.5), (2010.60, 8.8), (2010.75, 8.3), (2010.90, 8.0),
         (2011.05, 7.65), (2011.20, 7.7), (2011.35, 8.2), (2011.50, 8.95), (2011.60, 8.75), (2011.75, 8.85),
         (2011.90, 8.4), (2012.00, 8.3), (2012.10, 8.4), (2012.20, 8.45), (2012.30, 9.2), (2012.45, 9.7),
         (2012.60, 9.3), (2012.75, 8.8), (2012.90, 8.6), (2013.05, 8.75), (2013.15, 9.05), (2013.30, 8.8),
         (2013.45, 9.05), (2013.55, 8.7), (2013.70, 9.15), (2013.85, 8.8), (2014.00, 8.1), (2014.15, 8.5),
         (2014.30, 9.0), (2014.45, 9.2)]
mg_2E = [(2008.80, 7.05), (2008.90, 6.95), (2009.00, 7.0), (2009.15, 7.05), (2009.30, 7.1), (2009.45, 7.05),
         (2009.55, 7.1), (2009.70, 7.1), (2009.85, 7.35), (2010.00, 7.25), (2010.10, 7.3), (2010.25, 7.55),
         (2010.40, 7.45), (2010.55, 7.5), (2010.70, 7.6), (2010.85, 7.6), (2011.00, 7.45), (2011.10, 7.45),
         (2011.20, 7.3), (2011.35, 7.3), (2011.50, 7.05), (2011.65, 7.55), (2011.80, 7.7), (2011.95, 7.7),
         (2012.10, 8.2), (2012.25, 8.3), (2012.40, 8.0), (2012.55, 8.05), (2012.75, 8.1), (2012.90, 8.3),
         (2013.00, 8.15), (2013.10, 8.1), (2013.20, 8.1), (2013.35, 7.8), (2013.50, 7.95), (2013.65, 8.05),
         (2013.80, 7.85), (2013.95, 7.8), (2014.10, 7.55), (2014.25, 7.95), (2014.40, 7.75)]

# ---------------- styling ----------------
STY = {
    '1A': dict(color='#e3201b', marker='o', ms=5.5, ls='-'),
    '1B': dict(color='#e27a3e', marker='s', ms=5.5, ls=(0, (4, 3))),
    '2A': dict(color='#5a1ec8', marker='^', ms=7, ls='-'),
    '2B': dict(color='#64c31f', marker='v', ms=7, ls='-'),
    '2E': dict(color='#1f1fff', marker='D', ms=5.2, ls=(0, (5, 2, 1.5, 2))),
}


def xy(pairs):
    t, v = [], []
    for p in pairs:
        if p is None:
            t.append(np.nan)
            v.append(np.nan)
        else:
            t.append(p[0])
            v.append(p[1])
    return np.array(t), np.array(v)


def plot_site(ax, site, pairs, z):
    t, v = xy(pairs)
    s = STY[site]
    ax.plot(t, v, color=s['color'], ls=s['ls'], lw=1.6, marker=s['marker'], ms=s['ms'],
            mfc='none', mew=1.4, clip_on=False, zorder=z)


fig = plt.figure(figsize=(W / 100, H / 100), dpi=100)


def panel(top, bottom):
    ax = fig.add_axes([103 / W, 1 - bottom / H, (W - 103) / W, (bottom - top) / H])
    ax.set_xlim(X0, X1)
    ax.patch.set_visible(False)
    for s in ['top', 'right', 'bottom']:
        ax.spines[s].set_visible(False)
    ax.spines['left'].set_linewidth(1.5)
    ax.xaxis.set_major_locator(MultipleLocator(1))
    ax.xaxis.set_minor_locator(MultipleLocator(1 / 12))
    ax.tick_params(axis='x', which='both', bottom=False, top=False, labelbottom=False, labeltop=False)
    ax.tick_params(axis='y', which='major', direction='out', length=10, width=1.5, labelsize=12.5, pad=3)
    ax.tick_params(axis='y', which='minor', direction='out', length=6, width=1.2)
    ax.set_axisbelow(True)
    ax.grid(True, axis='x', which='major', color=GRID, ls=(0, (1, 2)), lw=1.3)
    ax.grid(True, axis='y', which='major', color=GRID, ls=(0, (1, 2)), lw=1.3)
    return ax


def ylabel(ax, text):
    ax.set_ylabel(text, fontsize=13)
    ax.yaxis.set_label_coords(-0.10, 0.5)


def draw_sites(ax, data, z0=3):
    for z, site in enumerate(['2E', '1B', '2A', '2B', '1A']):
        plot_site(ax, site, data[site], z0 + z)


# --- P-ET ---
ax = panel(74, 220)
ax.set_ylim(-161, 310)
ax.set_yticks([-100, 0, 100, 200])
ax.spines['left'].set_bounds(-139, 300)
t, v = xy(pet)
ax.fill_between(t, v, 0, where=v >= 0, interpolate=True, color='#aad2f8', lw=0, zorder=2)
ax.fill_between(t, v, 0, where=v <= 0, interpolate=True, color='#e6a883', lw=0, zorder=2)
ax.plot(t, v, color='#4f95ee', lw=1.8, zorder=3)
mt = [y + m / 12 for y in pet_mean_years for m in range(12)]
mv = [pet_mean_month[m] for y in pet_mean_years for m in range(12)]
ax.plot(mt, mv, color='#222222', lw=1.8, zorder=4)
ax.spines['top'].set_visible(True)
ax.spines['top'].set_linewidth(1.5)
ax.tick_params(axis='x', which='major', top=True, labeltop=True, direction='out',
               length=12, width=1.5, labelsize=13, pad=4)
ax.tick_params(axis='x', which='minor', top=True, direction='out', length=6, width=1.2)
ax.xaxis.set_label_position('top')
ax.set_xlabel('Year', fontsize=13, labelpad=10.5)
ylabel(ax, 'P-ET (mm)')
ax.add_patch(Rectangle((99 / W, 1 - 122 / H), (268 - 99) / W, (122 - 76) / H, transform=fig.transFigure,
                       facecolor='white', edgecolor='none', zorder=8, clip_on=False))
ax.legend([Line2D([], [], color='#222222', lw=1.8)], ['1974-2014 mean'], loc='upper left',
          bbox_to_anchor=(103 / W, 1 - 85 / H), bbox_transform=fig.transFigure, frameon=False,
          fontsize=11, handlelength=2.0, handletextpad=0.8, borderpad=0, borderaxespad=0).set_zorder(9)

# --- drips ---
ax = panel(220, 365)
ax.set_yscale('log')
ax.set_ylim(0.0704, 2.65)
ax.set_yticks([0.1, 1])
ax.set_yticklabels(['0.1', '1'])
ax.set_yticks([0.2, 0.3, 0.4, 0.5, 0.6, 0.7, 0.8, 0.9, 2], minor=True)
ax.yaxis.set_minor_formatter(NullFormatter())
ax.grid(True, axis='y', which='minor', color=GRID, ls=(0, (1, 2)), lw=1.3)
ax.spines['left'].set_bounds(0.092, 2.15)
draw_sites(ax, {'1A': drips_1A, '1B': drips_1B, '2A': drips_2A, '2B': drips_2B, '2E': drips_2E})
ylabel(ax, 'drips (min$^{-1}$)')

# --- log PCO2 ---
ax = panel(365, 545)
ax.set_ylim(-3.871, -1.766)
ax.set_yticks([-3.5, -3.0, -2.5, -2.0])
ax.set_yticklabels(['-3.5', '-3.0', '-2.5', '-2.0'])
ax.spines['left'].set_bounds(-3.78, -1.9)
lt = np.array([p[0] for p in pco2_logger])
lhi = np.array([p[1] for p in pco2_logger])
llo = np.array([p[2] for p in pco2_logger])
ax.fill_between(lt, llo, lhi, step='mid', color='#8c8c8c', lw=0, zorder=2)
mt, mv = xy(pco2_manual)
ax.plot(mt, mv, ls='none', marker='+', ms=8, mew=1.4, color='#222222', zorder=3)
draw_sites(ax, {'1A': pco2_1A, '1B': pco2_1B, '2A': pco2_2A, '2B': pco2_2B, '2E': pco2_2E}, 4)
ylabel(ax, 'log(Pco$_2$)')

# --- alkalinity ---
ax = panel(545, 700)
ax.set_ylim(60.7, 218.3)
ax.set_yticks([80, 120, 160, 200])
ax.set_yticks([100, 140, 180], minor=True)
ax.spines['left'].set_bounds(74, 200)
draw_sites(ax, {'1A': alk_1A, '1B': alk_1B, '2A': alk_2A, '2B': alk_2B, '2E': alk_2E})
ylabel(ax, 'alkalinity (mgl$^{-1}$)')

# --- SI calcite ---
ax = panel(700, 868)
ax.set_ylim(-0.569, 0.836)
ax.set_yticks([-0.4, 0.0, 0.4])
ax.set_yticklabels(['-0.4', '0.0', '0.4'])
ax.set_yticks([-0.2, 0.2, 0.6], minor=True)
ax.spines['left'].set_bounds(-0.50, 0.736)
draw_sites(ax, {'1A': si_1A, '1B': si_1B, '2A': si_2A, '2B': si_2B, '2E': si_2E})
ylabel(ax, 'SI$_{\\mathrm{cc}}$')

# --- Ca ---
ax = panel(868, 1012)
ax.set_ylim(18.2, 104.2)
ax.set_yticks([40, 60, 80])
ax.set_yticks([50, 70, 90], minor=True)
ax.spines['left'].set_bounds(34, 97)
draw_sites(ax, {'1A': ca_1A, '1B': ca_1B, '2A': ca_2A, '2B': ca_2B, '2E': ca_2E})
ylabel(ax, 'Ca (mgl$^{-1}$)')

# --- Mg ---
ax = panel(1012, 1163)
ax.set_ylim(5.68, 10.5)
ax.set_yticks([6, 7, 8, 9])
ax.spines['left'].set_bounds(5.68, 9.77)
draw_sites(ax, {'1A': mg_1A, '1B': mg_1B, '2A': mg_2A, '2B': mg_2B, '2E': mg_2E})
ylabel(ax, 'Mg (mgl$^{-1}$)')
ax.spines['bottom'].set_visible(True)
ax.spines['bottom'].set_linewidth(1.5)
ax.tick_params(axis='x', which='major', bottom=True, labelbottom=True, direction='out',
               length=12, width=1.5, labelsize=13, pad=16)
ax.tick_params(axis='x', which='minor', bottom=True, direction='out', length=6, width=1.2)
ax.set_xlabel('Year', fontsize=13, labelpad=2)

# --- legends placed over the panels ---
fig.legend([Line2D([], [], ls='none', marker='s', ms=5, color='#8c8c8c'),
            Line2D([], [], ls='none', marker='+', ms=9, mew=1.4, color='#222222')],
           ['log(Pco$_2$) cave logger', 'log(Pco$_2$) cave manual'],
           loc='upper left', bbox_to_anchor=(129 / W, 1 - 523 / H), frameon=False,
           fontsize=12, handlelength=1.0, handletextpad=0.9, labelspacing=0.2,
           borderpad=0, borderaxespad=0)
blank = Line2D([], [], ls='none')
h = {}
for site, s in STY.items():
    h[site] = Line2D([], [], color=s['color'], ls=s['ls'], lw=1.6, marker=s['marker'], ms=s['ms'],
                     mfc='none', mew=1.4)
fig.legend([h['1A'], h['1B'], blank, h['2A'], h['2B'], h['2E']],
           ['1A', '1B', '', '2A', '2B', '2E (high-flow)'], ncol=2,
           loc='upper left', bbox_to_anchor=(124 / W, 1 - 690 / H), frameon=False,
           fontsize=12, handlelength=1.9, handletextpad=0.7, labelspacing=-0.02,
           columnspacing=1.0, borderpad=0, borderaxespad=0)

fig.savefig('out.png', dpi=100)
